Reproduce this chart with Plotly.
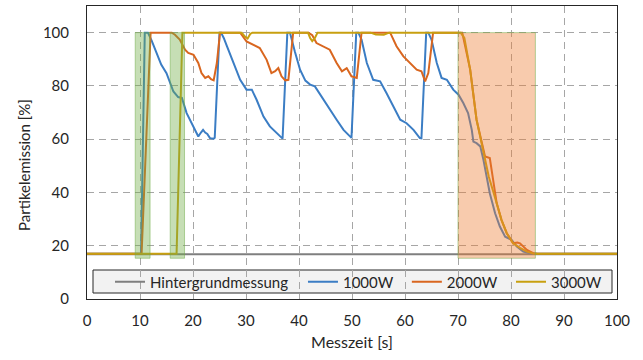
import plotly.graph_objects as go

# ---------------- data ----------------
x_bg = [0, 20, 40, 60, 80, 100]
y_bg = [16.8, 16.8, 16.8, 16.8, 16.8, 16.8]

x_1000 = [0, 10.2, 10.9, 11.5, 12.2, 13.1, 14.0, 15.0, 15.7, 16.3, 17.2, 17.9, 18.8, 20.1, 21.0,
          21.5, 21.9, 22.3, 22.7, 23.2, 23.9, 24.1, 25.0, 25.3, 25.8, 26.4, 27.6, 28.9, 30.1,
          31.1, 32.0, 33.3, 34.5, 35.8, 36.7, 36.9, 37.8, 38.3, 39.2, 40.2, 41.2, 42.1, 43.0,
          44.6, 45.8, 47.1, 48.4, 49.6, 49.9, 50.8, 51.2, 51.8, 52.8, 54.0, 55.3, 56.5, 57.8,
          59.1, 60.3, 61.6, 62.8, 63.1, 64.0, 64.4, 65.0, 66.0, 66.9, 67.9, 69.1, 70.1, 71.0,
          71.9, 72.6, 72.9, 73.5, 74.2, 74.8, 75.4, 76.0, 77.0, 77.9, 78.9, 79.5, 80.1, 81.1,
          82.3, 83.6, 85.0, 100]
y_1000 = [17, 17, 100, 100, 97, 92.4, 88, 84.8, 81, 77.9, 75.8, 75.5, 69.8, 64.8, 61.0,
          62.5, 63.5, 62.5, 62.0, 60.4, 60.2, 60.5, 100, 100, 98, 94.9, 88.6, 82.3, 78.6,
          78.6, 74.8, 68.5, 64.8, 62.3, 60.4, 60.2, 100, 100, 93, 86.1, 82, 80.5, 79.8,
          74.8, 71.1, 67.3, 63.5, 61.0, 60.5, 100, 100, 97.4, 88.6, 82.3, 81.7, 77.3, 72.3,
          67.3, 66.0, 63.5, 60.4, 60.3, 100, 100, 97.4, 88.6, 83.0, 82.3, 78.6, 76.7, 73.6,
          69.8, 63.5, 59.1, 58.5, 57.3, 52.3, 46.0, 39.7, 32.2, 27.2, 23.4, 22.8, 22.2, 19.7,
          17.8, 17.2, 17, 17]

x_2000 = [0, 10.3, 12.0, 16.0, 16.6, 17.5, 18.5, 19.1, 20.1, 21.0, 21.6, 22.3, 22.9, 23.4,
          23.9, 24.5, 25.1, 28.9, 30.1, 31.4, 32.6, 33.9, 34.8, 35.5, 36.1, 36.7, 37.4, 38.0,
          38.9, 41.8, 42.5, 43.3, 44.6, 45.8, 47.1, 48.1, 49.0, 49.9, 50.9, 51.8, 57.2, 58.4,
          59.7, 60.9, 62.2, 63.1, 63.8, 64.4, 65.3, 70.8, 72.3, 73.5, 74.2, 75.1, 76.0, 76.7,
          77.3, 78.2, 79.2, 80.4, 81.2, 81.7, 83.0, 84.2, 85.0, 100]
y_2000 = [17, 17, 100, 100, 99.2, 97.4, 93.6, 92.4, 91.7, 88.6, 84.8, 83.0, 83.6, 82.5,
          82.1, 88.6, 100, 100, 96.7, 95.5, 94.2, 89.8, 84.8, 85.5, 86.7, 83.6, 82.1, 82.3,
          100, 100, 99, 96.1, 94.9, 93.6, 88.6, 85.5, 86.7, 83.6, 83.0, 100, 100, 94.9,
          91.1, 88.6, 86.1, 85.5, 81.7, 84.8, 100, 100, 86.1, 67.3, 61.0, 53.5, 52.9, 42.9,
          36.0, 29.7, 24.7, 20.9, 21.2, 20.9, 18.4, 17.2, 17, 17]

x_3000 = [0, 16.9, 18.0, 29.2, 29.8, 30.3, 30.8, 31.2, 41.7, 42.1, 42.5, 43.0, 43.5, 53.5,
          54.5, 56.0, 57.0, 70.5, 71.2, 72.3, 73.5, 74.2, 75.1, 75.8, 76.7, 77.3, 78.2, 79.2,
          80.4, 81.7, 83.0, 84.2, 85.0, 100]
y_3000 = [17, 17, 100, 100, 98.5, 97.8, 99.5, 100, 100, 98, 96.8, 98, 100, 100,
          99.3, 99.2, 100, 100, 98, 86, 67.3, 61.0, 53.0, 46.0, 40.0, 36.0, 29.7, 24.7,
          20.9, 19.2, 17.8, 17.1, 17, 17]

series_names = ["Hintergrundmessung", "1000W", "2000W", "3000W"]
series_colors = ["#7f7f7f", "#3b7dc4", "#d9661f", "#c8a010"]

green_bands = [(9.1, 11.9), (15.7, 18.4)]
orange_band = (70.0, 84.6)
band_bottom, band_top = 15.3, 100

x_ticks = [0, 10, 20, 30, 40, 50, 60, 70, 80, 90, 100]
y_ticks = [0, 20, 40, 60, 80, 100]

FONT = "Lato"
TXT = "#262626"

fig = go.Figure()
xs = [x_bg, x_1000, x_2000, x_3000]
ys = [y_bg, y_1000, y_2000, y_3000]
legend_ids = ["legend", "legend2", "legend3", "legend4"]
for name, col, xv, yv, lg in zip(series_names, series_colors, xs, ys, legend_ids):
    fig.add_trace(go.Scatter(x=xv, y=yv, mode="lines", name=name,
                             line=dict(color=col, width=2), legend=lg))

shapes = []
# legend box
shapes.append(dict(type="rect", xref="paper", yref="paper",
                   x0=(93 - 87) / 530, x1=(612 - 87) / 530,
                   y0=(299 - 293) / 293, y1=(299 - 270) / 293,
                   fillcolor="#f2f2f2", line=dict(color="#262626", width=1), layer="between"))
for a, b in green_bands:
    shapes.append(dict(type="rect", xref="x", yref="y", x0=a, x1=b, y0=band_bottom, y1=band_top,
                       fillcolor="rgba(112,173,71,0.4)", line=dict(color="rgba(112,173,71,0.5)", width=1),
                       layer="above"))
shapes.append(dict(type="rect", xref="x", yref="y", x0=orange_band[0], x1=orange_band[1],
                   y0=band_bottom, y1=band_top,
                   fillcolor="rgba(237,125,49,0.4)", line=dict(color="rgba(112,173,71,0.5)", width=1),
                   layer="above"))

leg_x = [0.0434, 0.4075, 0.6035, 0.800]
legs = {}
for lg, lx in zip(legend_ids, leg_x):
    legs[lg] = dict(x=lx, y=0.058, xanchor="left", yanchor="middle", orientation="h",
                    bgcolor="rgba(0,0,0,0)", borderwidth=0,
                    font=dict(family=FONT, size=15, color=TXT))

fig.update_layout(
    width=643, height=360,
    margin=dict(l=87, r=26, t=6, b=61),
    plot_bgcolor="white", paper_bgcolor="white",
    font=dict(family=FONT, size=15, color=TXT),
    shapes=shapes,
    showlegend=True,
    annotations=[dict(text="Partikelemission [%]", xref="paper", yref="paper",
                      x=(24 - 87) / 530, y=(299 - 165) / 293, xanchor="center", yanchor="middle",
                      textangle=-90, showarrow=False,
                      font=dict(family=FONT, size=15, color=TXT))],
    **legs,
)
fig.update_xaxes(range=[0, 100], tickvals=x_ticks, ticks="", ticklabelstandoff=8,
                 showgrid=True, gridcolor="#a6a6a6", gridwidth=1, griddash="7px,5px",
                 showline=True, linecolor="#262626", linewidth=1, mirror=True, zeroline=False,
                 tickfont=dict(family=FONT, size=15, color=TXT),
                 title=dict(text="Messzeit [s]", font=dict(family=FONT, size=16, color=TXT), standoff=8))
fig.update_yaxes(range=[0, 110], tickvals=y_ticks, ticks="", ticklabelstandoff=14,
                 showgrid=True, gridcolor="#a6a6a6", gridwidth=1, griddash="7px,5px",
                 showline=True, linecolor="#262626", linewidth=1, mirror=True, zeroline=False,
                 tickfont=dict(family=FONT, size=15, color=TXT))

fig.write_html("out.html")
